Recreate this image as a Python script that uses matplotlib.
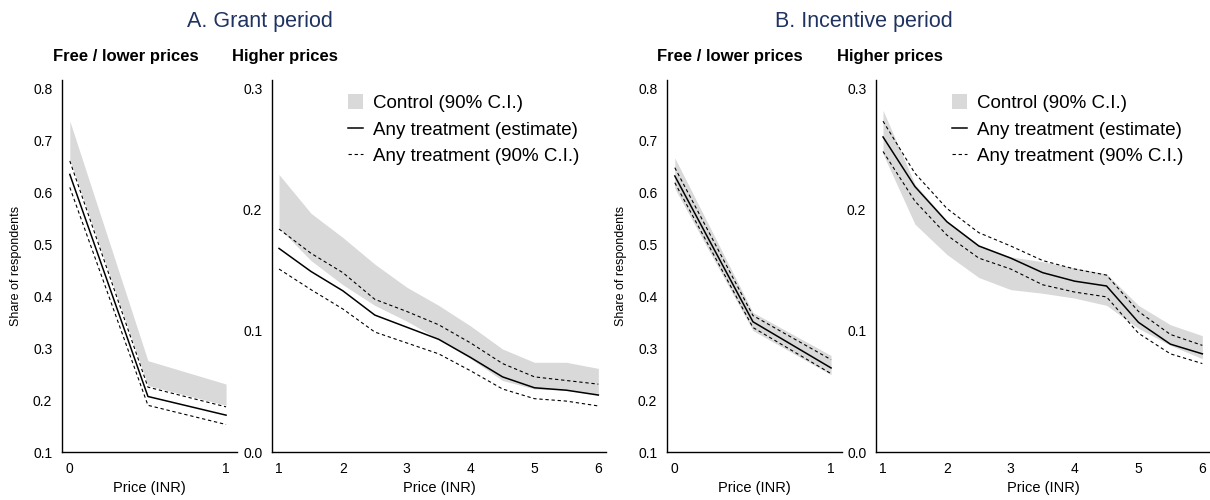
import numpy as np
import matplotlib
matplotlib.use('Agg')
from matplotlib import pyplot as plt
from matplotlib.patches import Patch
from matplotlib.lines import Line2D

plt.rcParams['font.family'] = ['Liberation Sans', 'DejaVu Sans']

# price grid
price_low = [0, 0.5, 1]
price_high = [1, 1.5, 2, 2.5, 3, 3.5, 4, 4.5, 5, 5.5, 6]

# A. Grant period - free / lower prices
a_low_ctrl_hi = [0.738, 0.276, 0.231]
a_low_ctrl_lo = [0.664, 0.228, 0.190]
a_low_est = [0.635, 0.207, 0.171]
a_low_ci_hi = [0.661, 0.225, 0.187]
a_low_ci_lo = [0.610, 0.190, 0.153]

# A. Grant period - higher prices
a_high_ctrl_hi = [0.229, 0.197, 0.177, 0.155, 0.136, 0.121, 0.104, 0.085, 0.074, 0.074, 0.069]
a_high_ctrl_lo = [0.185, 0.158, 0.138, 0.121, 0.108, 0.093, 0.077, 0.059, 0.052, 0.051, 0.047]
a_high_est = [0.168, 0.149, 0.133, 0.113, 0.103, 0.093, 0.078, 0.062, 0.053, 0.051, 0.047]
a_high_ci_hi = [0.184, 0.164, 0.148, 0.126, 0.116, 0.105, 0.090, 0.073, 0.062, 0.059, 0.056]
a_high_ci_lo = [0.151, 0.134, 0.118, 0.099, 0.090, 0.081, 0.067, 0.052, 0.044, 0.042, 0.038]

# B. Incentive period - free / lower prices
b_low_ctrl_hi = [0.667, 0.369, 0.286]
b_low_ctrl_lo = [0.608, 0.334, 0.249]
b_low_est = [0.632, 0.351, 0.262]
b_low_ci_hi = [0.648, 0.363, 0.278]
b_low_ci_lo = [0.619, 0.340, 0.251]

# B. Incentive period - higher prices
b_high_ctrl_hi = [0.282, 0.221, 0.191, 0.171, 0.161, 0.157, 0.152, 0.147, 0.121, 0.105, 0.096]
b_high_ctrl_lo = [0.246, 0.188, 0.163, 0.144, 0.134, 0.131, 0.127, 0.121, 0.102, 0.088, 0.077]
b_high_est = [0.260, 0.219, 0.190, 0.170, 0.160, 0.148, 0.141, 0.137, 0.107, 0.089, 0.081]
b_high_ci_hi = [0.273, 0.230, 0.201, 0.181, 0.170, 0.158, 0.151, 0.146, 0.116, 0.097, 0.088]
b_high_ci_lo = [0.248, 0.207, 0.179, 0.160, 0.151, 0.138, 0.132, 0.128, 0.098, 0.081, 0.073]

band_color = '#d9d9d9'
title_color = '#1f3360'
W, H = 1210, 500


def rect(left, right, top, bottom):
    return [left / W, 1 - bottom / H, (right - left) / W, (bottom - top) / H]


def draw(ax, x, ctrl_hi, ctrl_lo, est, ci_hi, ci_lo):
    ax.fill_between(x, ctrl_lo, ctrl_hi, color=band_color, lw=0)
    ax.plot(x, est, color='black', lw=1.1)
    ax.plot(x, ci_hi, color='black', lw=0.8, dashes=(3, 2.5))
    ax.plot(x, ci_lo, color='black', lw=0.8, dashes=(3, 2.5))
    for s in ['top', 'right']:
        ax.spines[s].set_visible(False)
    ax.spines['left'].set_linewidth(1.0)
    ax.spines['bottom'].set_linewidth(1.0)
    ax.tick_params(length=0, labelsize=10, pad=7)
    ax.set_xlabel('Price (INR)', fontsize=10.5, labelpad=4)


fig = plt.figure(figsize=(12.1, 5), dpi=100)

ax1 = fig.add_axes(rect(62, 237, 80, 452))
ax2 = fig.add_axes(rect(272, 606, 80, 452))
ax3 = fig.add_axes(rect(667, 842, 80, 452))
ax4 = fig.add_axes(rect(876, 1210, 80, 452))

draw(ax1, price_low, a_low_ctrl_hi, a_low_ctrl_lo, a_low_est, a_low_ci_hi, a_low_ci_lo)
draw(ax2, price_high, a_high_ctrl_hi, a_high_ctrl_lo, a_high_est, a_high_ci_hi, a_high_ci_lo)
draw(ax3, price_low, b_low_ctrl_hi, b_low_ctrl_lo, b_low_est, b_low_ci_hi, b_low_ci_lo)
draw(ax4, price_high, b_high_ctrl_hi, b_high_ctrl_lo, b_high_est, b_high_ci_hi, b_high_ci_lo)

for ax in [ax1, ax3]:
    ax.set_xlim(-0.05, 1.07)
    ax.set_xticks([0, 1])
    ax.set_ylim(0.1, 0.817)
    ax.set_yticks([0.1, 0.2, 0.3, 0.4, 0.5, 0.6, 0.7, 0.8])
    ax.set_yticklabels(['0.1', '0.2', '0.3', '0.4', '0.5', '0.6', '0.7', '0.8'])
    ax.set_ylabel('Share of respondents', fontsize=9, labelpad=8)

for ax in [ax2, ax4]:
    ax.set_xlim(0.89, 6.12)
    ax.set_xticks([1, 2, 3, 4, 5, 6])
    ax.set_ylim(0, 0.307)
    ax.set_yticks([0, 0.1, 0.2, 0.3])
    ax.set_yticklabels(['0.0', '0.1', '0.2', '0.3'])
    handles = [Patch(facecolor=band_color, edgecolor='none'),
               Line2D([], [], color='black', lw=1.1),
               Line2D([], [], color='black', lw=0.8, dashes=(3, 2.5))]
    labels = ['Control (90% C.I.)', 'Any treatment (estimate)', 'Any treatment (90% C.I.)']
    ax.legend(handles, labels, loc='upper left', bbox_to_anchor=(0.227, 0.963),
              frameon=False, fontsize=13.5, handlelength=0.8, handleheight=0.9,
              handletextpad=0.55, labelspacing=0.45, borderpad=0, borderaxespad=0)

# panel titles
fig.text(260 / W, 1 - 22 / H, 'A. Grant period', ha='center', va='center',
         fontsize=15.5, color=title_color)
fig.text(864 / W, 1 - 22 / H, 'B. Incentive period', ha='center', va='center',
         fontsize=15.5, color=title_color)
for xpix, txt in [(53, 'Free / lower prices'), (232, 'Higher prices'),
                  (657, 'Free / lower prices'), (837, 'Higher prices')]:
    fig.text(xpix / W, 1 - 57 / H, txt, ha='left', va='center',
             fontsize=12, fontweight='bold')

fig.savefig('out.png', dpi=100)
